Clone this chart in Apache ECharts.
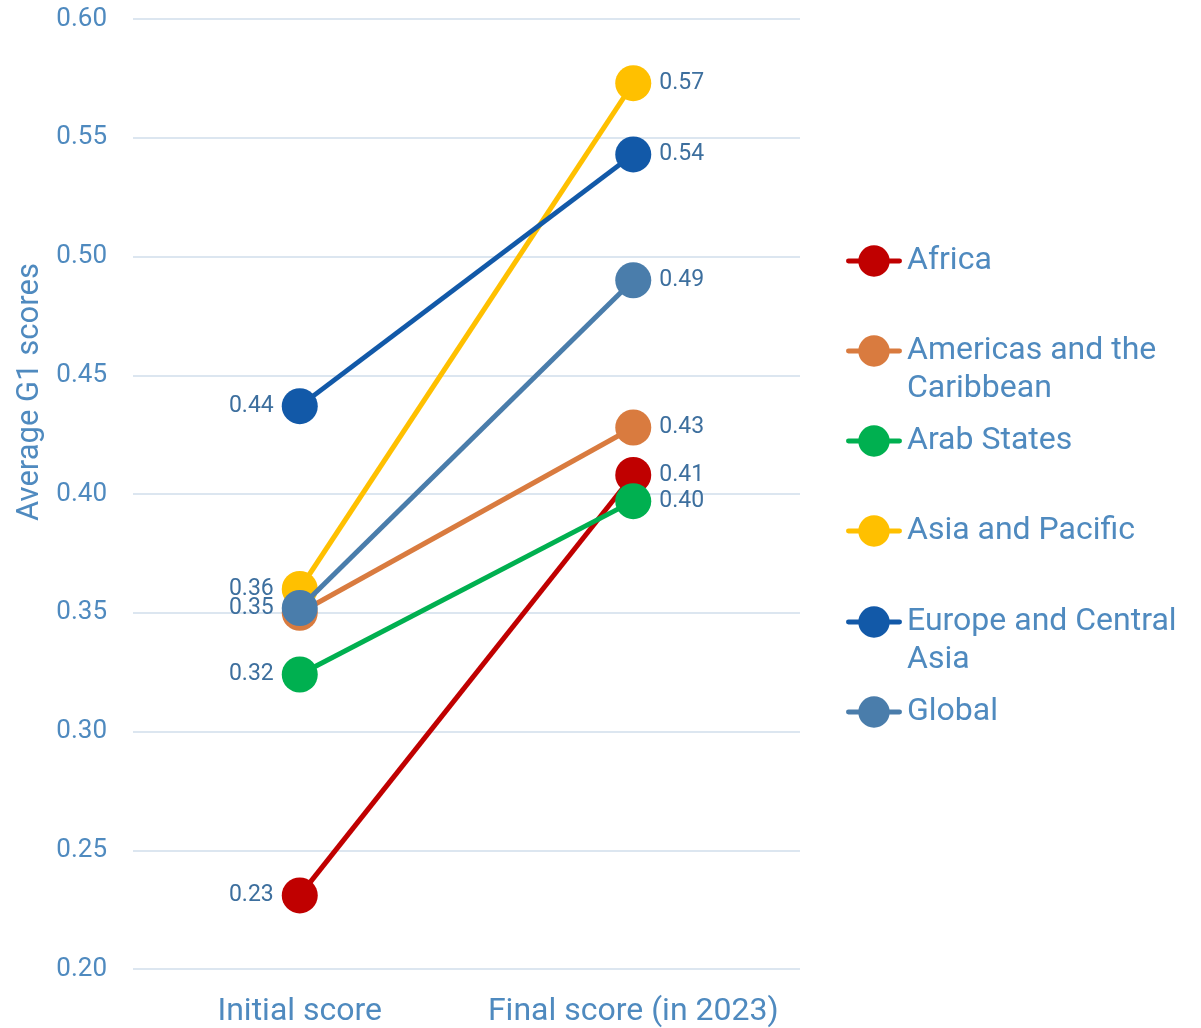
<!DOCTYPE html>
<html>
<head>
<meta charset="utf-8">
<script src="https://cdn.jsdelivr.net/npm/echarts@6/dist/echarts.min.js"></script>
<style>
html,body{margin:0;padding:0;background:#fff;}
#chart{width:1201px;height:1028px;}
</style>
</head>
<body>
<div id="chart"></div>
<script>
const categories = ['Initial score', 'Final score (in 2023)'];
const seriesNames = ['Africa', 'Americas and the Caribbean', 'Arab States', 'Asia and Pacific', 'Europe and Central Asia', 'Global'];
const africa = [0.231, 0.408];
const americas = [0.350, 0.428];
const arabStates = [0.324, 0.397];
const asiaPacific = [0.360, 0.573];
const europeCentralAsia = [0.437, 0.543];
const globalScores = [0.352, 0.490];
const yTicks = [0.20, 0.25, 0.30, 0.35, 0.40, 0.45, 0.50, 0.55, 0.60];

const seriesValues = [africa, americas, arabStates, asiaPacific, europeCentralAsia, globalScores];
const colors = ['#c00000', '#d97b3f', '#00b050', '#ffc000', '#1259a8', '#4a7dab'];
const legendLabels = {
  'Americas and the Caribbean': '\nAmericas and the\nCaribbean',
  'Europe and Central Asia': '\nEurope and Central\nAsia'
};
const legendCenters = [261, 351, 441, 531, 622, 712];

const axisColor = '#4f8abf';
const labelColor = '#3d6f9e';
const fontFamily = 'Roboto, "Noto Sans", sans-serif';

const chart = echarts.init(document.getElementById('chart'), null, {renderer: 'canvas'});

const series = seriesNames.map((name, i) => ({
  name: name,
  type: 'line',
  color: colors[i],
  symbol: 'circle',
  symbolSize: 36,
  lineStyle: {width: 5, color: colors[i]},
  itemStyle: {color: colors[i]},
  z: 2 + i,
  label: {
    show: true,
    fontSize: 23,
    fontFamily: fontFamily,
    color: labelColor,
    formatter: p => p.value.toFixed(2),
    position: 'right',
    distance: 8
  },
  data: seriesValues[i].map((v, j) => ({
    value: v,
    label: {
      position: j === 0 ? 'left' : 'right',
      // the Americas initial label sits under the identical Global label
      show: !(i === 1 && j === 0)
    }
  })),
  emphasis: {disabled: true},
  animation: false
}));

const iconPath = 'path://M2,13.5L54,13.5A2.5,2.5,0,0,1,54,18.5L2,18.5A2.5,2.5,0,0,1,2,13.5Z M12,16A16,16,0,1,1,44,16A16,16,0,1,1,12,16Z';

const legends = seriesNames.map((name, i) => {
  const twoLine = !!legendLabels[name];
  return {
    orient: 'vertical',
    left: 846,
    top: twoLine ? legendCenters[i] - 57 : legendCenters[i] - 19,
    padding: 0,
    itemWidth: 56,
    itemHeight: 32,
    icon: iconPath,
    selectedMode: false,
    formatter: n => legendLabels[n] || n,
    textStyle: {
      fontSize: 32,
      fontFamily: fontFamily,
      color: axisColor,
      lineHeight: 38
    },
    data: [name]
  };
});

chart.setOption({
  backgroundColor: '#ffffff',
  animation: false,
  textStyle: {fontFamily: fontFamily},
  grid: {left: 133, right: 401, top: 19, bottom: 56, containLabel: false},
  legend: legends,
  xAxis: {
    type: 'category',
    data: categories,
    boundaryGap: true,
    axisLine: {show: false},
    axisTick: {show: false},
    axisLabel: {color: axisColor, fontSize: 32, fontFamily: fontFamily, margin: 27, interval: 0}
  },
  yAxis: {
    type: 'value',
    min: yTicks[0],
    max: yTicks[yTicks.length - 1],
    interval: 0.05,
    name: 'Average G1 scores',
    nameLocation: 'middle',
    nameGap: 84,
    nameTextStyle: {color: axisColor, fontSize: 31, fontFamily: fontFamily, padding: [0, 0, 0, 204]},
    axisLine: {show: false},
    axisTick: {show: false},
    splitLine: {lineStyle: {color: '#dce6f0', width: 2}},
    axisLabel: {color: axisColor, fontSize: 26, fontFamily: fontFamily, margin: 26, formatter: v => v.toFixed(2)}
  },
  series: series
});
</script>
</body>
</html>
